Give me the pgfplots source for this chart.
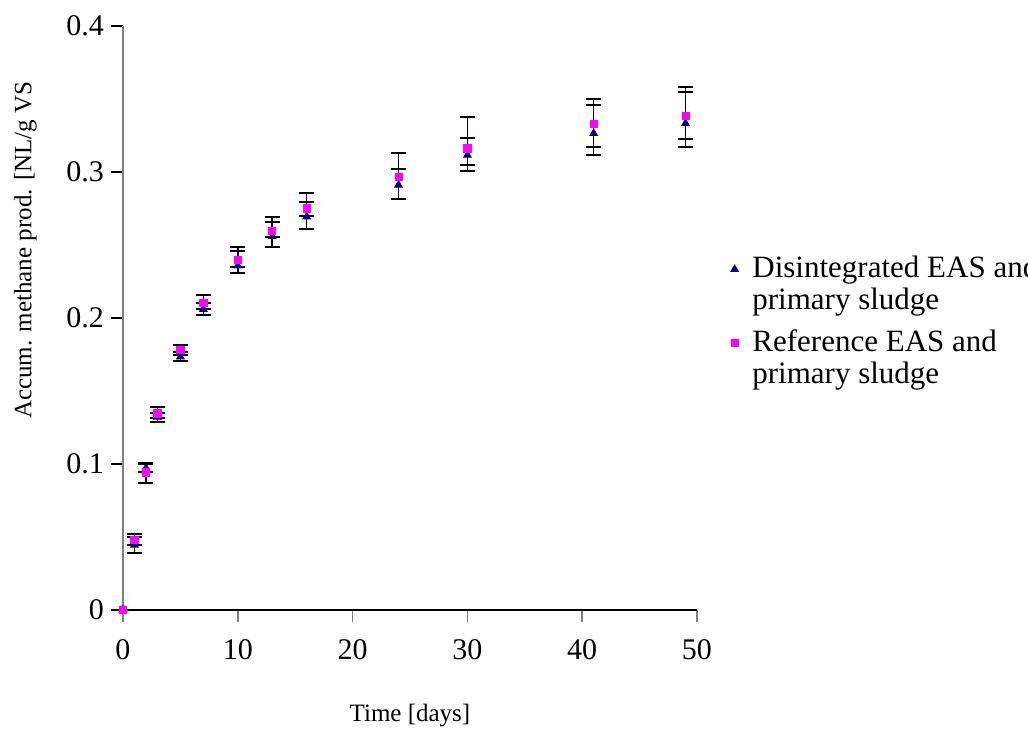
\documentclass[border=0pt]{standalone}
\usepackage{fontspec}
\setmainfont{Liberation Serif}
\usepackage{pgfplots}
\pgfplotsset{compat=1.18}
\definecolor{navy}{HTML}{000080}
\definecolor{mag}{HTML}{FF00FF}
\definecolor{axgray}{HTML}{808080}
\begin{document}
\begin{tikzpicture}
\useasboundingbox (0,0) rectangle (514pt,365.5pt);
\begin{axis}[
  at={(61.5pt,60.5pt)}, anchor=south west,
  scale only axis, width=287pt, height=292pt,
  xmin=0, xmax=50, ymin=0, ymax=0.4,
  clip=false,
  axis x line*=bottom, axis y line*=left,
  x axis line style={black, -, line width=0.6pt},
  y axis line style={axgray, -, line width=0.8pt},
  xtick={0,10,20,30,40,50},
  ytick={0,0.1,0.2,0.3,0.4},
  tick align=outside,
  x tick style={axgray, line width=0.8pt},
  y tick style={black, line width=0.6pt},
  major tick length=6pt,
  scaled y ticks=false,
  /pgf/number format/assume math mode=true,
  tick label style={font=\fontsize{15}{18}\selectfont},
  x tick label style={yshift=-5pt},
  xlabel={Time [days]},
  ylabel={Accum. methane prod. [NL/g VS},
  every axis x label/.style={at={(axis description cs:0.5,-0.18)}, anchor=center, font=\fontsize{12.5}{15}\selectfont},
  every axis y label/.style={at={(axis description cs:-0.17,0.616)}, anchor=center, rotate=90, font=\fontsize{12.5}{15}\selectfont},
  legend cell align=left,
  legend style={draw=none, fill=none, inner sep=0pt, row sep=0pt,
    nodes={inner ysep=0pt},
    /tikz/every odd column/.append style={column sep=5pt},
    font=\fontsize{15.5}{18}\selectfont,
    at={(axis description cs:1.045,0.6115)}, anchor=north west},
  legend image code/.code={\draw[mark repeat=2,mark phase=2,#1] plot coordinates {(0cm,0cm)(0.2cm,0cm)(0.4cm,0cm)};},
]
\addplot[only marks, mark=triangle*, mark size=2.2pt, color=navy,
  mark options={fill=navy, draw=navy},
  error bars/.cd, y dir=both, y explicit,
  error bar style={black, line width=0.8pt},
  error mark options={black, mark size=3.75pt, line width=1pt, rotate=90}]
table[x=x, y=y, y error plus=ep, y error minus=em] {
x y ep em
0 0 0 0
1 0.0445 0.0057 0.0057
2 0.0972 0.0026 0.0025
3 0.1322 0.0030 0.0032
5 0.1735 0.0030 0.0030
7 0.2060 0.0040 0.0042
10 0.2358 0.0103 0.0011
13 0.2560 0.0100 0.0005
16 0.2694 0.0103 0.0087
24 0.2911 0.0107 0.0096
30 0.3116 0.0119 0.0109
41 0.3265 0.0194 0.0151
49 0.3333 0.0217 0.0164
};
\addlegendentry[text height=12pt, text depth=4pt]{Disintegrated EAS and}
\addlegendimage{empty legend}
\addlegendentry[text height=12pt, text depth=9pt]{primary sludge}
\addplot[only marks, mark=square*, mark size=1.8pt, color=mag,
  mark options={fill=mag, draw=mag},
  error bars/.cd, y dir=both, y explicit,
  error bar style={black, line width=0.8pt},
  error mark options={black, mark size=3.75pt, line width=1pt, rotate=90}]
table[x=x, y=y, y error plus=ep, y error minus=em] {
x y ep em
0 0 0 0
1 0.0482 0.0038 0.0037
2 0.0943 0.0067 0.0075
3 0.1347 0.0046 0.0034
5 0.1780 0.0035 0.0035
7 0.2105 0.0053 0.0045
10 0.2397 0.0087 0.0091
13 0.2598 0.0096 0.0109
16 0.2751 0.0105 0.0054
24 0.2968 0.0160 0.0153
30 0.3162 0.0212 0.0114
41 0.3329 0.0169 0.0160
49 0.3384 0.0200 0.0158
};
\addlegendentry[text height=12pt, text depth=4pt]{Reference EAS and}
\addlegendimage{empty legend}
\addlegendentry[text height=12pt, text depth=4pt]{primary sludge}
\end{axis}
\end{tikzpicture}
\end{document}
